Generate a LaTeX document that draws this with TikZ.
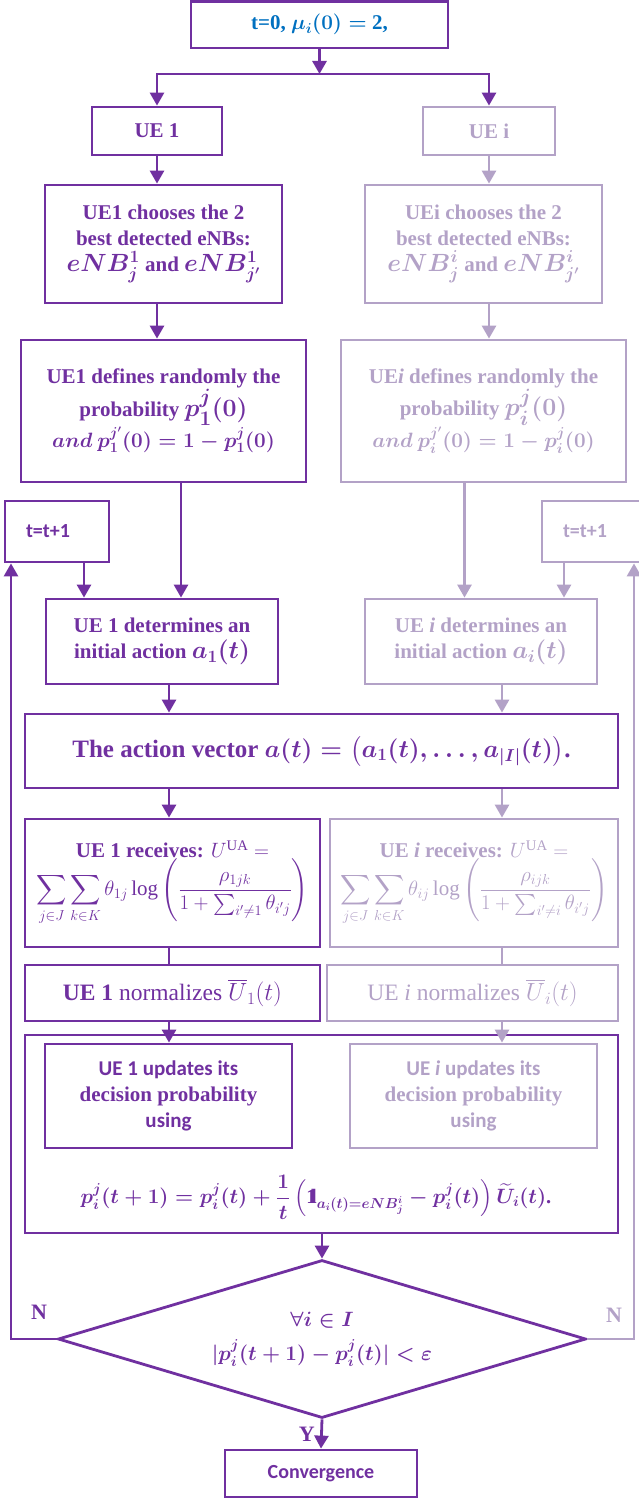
\documentclass[tikz,border=0pt]{standalone}
\usepackage{amsmath,amssymb}
\usepackage{fontspec}
\setmainfont{Liberation Serif}
\setsansfont{Carlito}
\usepackage{tikz}
\usetikzlibrary{arrows.meta,shapes.geometric}
\definecolor{uedark}{HTML}{7030A0}
\definecolor{uelight}{HTML}{B3A2C7}
\definecolor{ueblue}{HTML}{0070C0}
\newcommand{\uesize}[2]{\fontsize{#1}{#2}\selectfont}
\newcommand{\ueind}{\mathrm{1\kern-0.27em l}}

\begin{document}
\begin{tikzpicture}[x=1pt, y=-1pt,
    box/.style={draw, rectangle, line width=2.8pt, align=center, inner sep=2pt, font=\uesize{21}{26}\bfseries\boldmath},
    dk/.style={draw=uedark, text=uedark},
    lt/.style={draw=uelight, text=uelight},
    tbox/.style={box, align=left, text width=62pt, inner xsep=21pt, minimum height=61pt, font=\uesize{20}{24}\sffamily\bfseries},
    arr/.style={-{Triangle[length=13pt,width=14pt]}, line width=2.8pt, uedark},
    larr/.style={arr, uelight},
    ln/.style={line width=2.8pt, uedark},
    lln/.style={ln, uelight},
    lbl/.style={font=\uesize{22}{26}\bfseries}
]
\useasboundingbox (0,0) rectangle (639,1498);

\node[box, dk, text=ueblue, minimum width=257pt, minimum height=46.5pt] (init) at (319.5,24.75) {t=0,\ $\mu_i(0) =$ 2,};
\node[box, dk, minimum width=130pt, minimum height=48pt] (ue1) at (157,131) {UE 1};
\node[box, lt, minimum width=132pt, minimum height=48pt] (uei) at (489,131) {UE i};
\node[box, dk, minimum width=237pt, minimum height=118pt] (cho1) at (163.5,244) {UE1 chooses the 2\\best detected eNBs:\\{\uesize{23}{28}$eNB_j^1$} and {\uesize{23}{28}$eNB_{j'}^1$}};
\node[box, lt, minimum width=237pt, minimum height=118pt] (choi) at (483.5,244) {UEi chooses the 2\\best detected eNBs:\\{\uesize{23}{28}$eNB_j^i$} and {\uesize{23}{28}$eNB_{j'}^i$}};
\node[box, dk, minimum width=285pt, minimum height=142pt] (def1) at (163.5,411) {UE1 defines randomly the\\probability {\uesize{28}{32}$p_1^j(0)$}\\{\uesize{19.5}{32}$and\ p_1^{j'}(0) = 1 - p_1^j(0)$}};
\node[box, lt, minimum width=285pt, minimum height=142pt] (defi) at (483.5,411) {UE\textit{i} defines randomly the\\probability {\uesize{28}{32}$p_i^j(0)$}\\{\uesize{19.5}{32}$and\ p_i^{j'}(0) = 1 - p_i^j(0)$}};
\node[tbox, dk] (tp1) at (57,531.5) {t=t+1};
\node[tbox, lt] (tpi) at (594,531.5) {t=t+1};
\node[box, dk, minimum width=232pt, minimum height=85pt] (det1) at (162,641.5) {UE 1 determines an\\initial action {\uesize{23}{26}$a_1(t)$}};
\node[box, lt, minimum width=232pt, minimum height=85pt] (deti) at (481,641.5) {UE \textit{i} determines an\\initial action {\uesize{23}{26}$a_i(t)$}};
\node[box, dk, minimum width=593pt, minimum height=74pt, font=\uesize{25}{30}\bfseries\boldmath] (act) at (321.5,751) {The action vector $a(t) = \big(a_1(t), \dots, a_{|I|}(t)\big)$.};
\node[box, dk, minimum width=295pt, minimum height=128pt] (rec1) at (172.5,883) {UE 1 receives: {\unboldmath$U^{\mathrm{UA}} =$}\\{\unboldmath$\displaystyle\sum_{j\in J}\sum_{k\in K}\theta_{1j}\log\left(\frac{\rho_{1jk}}{1+\sum_{i'\neq 1}\theta_{i'j}}\right)$}};
\node[box, lt, minimum width=288pt, minimum height=128pt] (reci) at (474,883) {UE \textit{i} receives: {\unboldmath$U^{\mathrm{UA}} =$}\\{\unboldmath$\displaystyle\sum_{j\in J}\sum_{k\in K}\theta_{ij}\log\left(\frac{\rho_{ijk}}{1+\sum_{i'\neq i}\theta_{i'j}}\right)$}};
\node[box, dk, minimum width=295pt, minimum height=56pt, font=\uesize{23.5}{28}\bfseries\boldmath] (nor1) at (172.5,993) {UE 1 {\mdseries\unboldmath normalizes $\overline{U}_1(t)$}};
\node[box, lt, minimum width=291pt, minimum height=56pt, font=\uesize{23.5}{28}\mdseries] (nori) at (472.5,993) {UE \textit{i} normalizes $\overline{U}_i(t)$};
\node[box, dk, minimum width=593pt, minimum height=198pt] (upd) at (321.5,1134) {};
\node[box, dk, minimum width=247pt, minimum height=104pt] (upd1) at (168.5,1096) {{\sffamily UE 1 updates its}\\decision probability\\{\sffamily using}};
\node[box, lt, minimum width=247pt, minimum height=104pt] (updi) at (473.5,1096) {{\sffamily UE \textit{i} updates its}\\decision probability\\{\sffamily using}};
\node[text=uedark, font=\uesize{20.5}{26}\bfseries\boldmath] (rule) at (316,1197) {$p_i^j(t+1) = p_i^j(t) + \dfrac{1}{t}\left(\ueind_{a_i(t)=eNB_j^i} - p_i^j(t)\right)\widetilde{U}_i(t)$.};
\node[draw=uedark, text=uedark, diamond, aspect=3.34, line width=2.8pt, minimum width=528pt, minimum height=158pt, align=center, font=\uesize{22}{34}\bfseries\boldmath] (dec) at (322,1339) {$\forall i \in I$\\$|p_i^j(t+1) - p_i^j(t)| < \varepsilon$};
\node[box, dk, minimum width=192pt, minimum height=47pt, font=\uesize{20}{24}\sffamily\bfseries] (conv) at (321,1473.5) {Convergence};

\coordinate (br) at (0,74);
\coordinate (l1) at (181,0);
\coordinate (li) at (464.5,0);
\coordinate (t1) at (84,0);
\coordinate (ti) at (564,0);
\coordinate (m1) at (169,0);
\coordinate (mi) at (502,0);
\coordinate (fbl) at (11,0);
\coordinate (fbr) at (634,0);

\draw[arr] (init.south) -- (init.south |- br);
\draw[arr] (init.south |- br) -| (ue1.north);
\draw[arr] (init.south |- br) -| (uei.north);
\draw[arr] (ue1.south) -- (ue1.south |- cho1.north);
\draw[larr] (uei.south) -- (uei.south |- choi.north);
\draw[arr] (ue1.south |- cho1.south) -- (ue1.south |- def1.north);
\draw[larr] (uei.south |- choi.south) -- (uei.south |- defi.north);
\draw[arr] (def1.south -| l1) -- (det1.north -| l1);
\draw[larr] (defi.south -| li) -- (deti.north -| li);
\draw[arr] (tp1.south -| t1) -- (det1.north -| t1);
\draw[larr] (tpi.south -| ti) -- (deti.north -| ti);
\draw[arr] (det1.south -| m1) -- (act.north -| m1);
\draw[larr] (deti.south -| mi) -- (act.north -| mi);
\draw[arr] (act.south -| m1) -- (rec1.north -| m1);
\draw[larr] (act.south -| mi) -- (reci.north -| mi);
\draw[ln] (rec1.south -| m1) -- (nor1.north -| m1);
\draw[lln] (reci.south -| mi) -- (nori.north -| mi);
\draw[arr] (nor1.south -| m1) -- (upd1.north -| m1);
\draw[larr] (nori.south -| mi) -- (updi.north -| mi);
\draw[arr] (upd.south -| dec.north) -- (dec.north);
\draw[arr] (dec.south) -- node[lbl, text=uedark, left, xshift=-2pt] {Y} (conv.north);
\draw[arr] (dec.west) -| (tp1.south -| fbl);
\draw[larr] (dec.east) -| (tpi.south -| fbr);
\node[lbl, text=uedark] (nl) at (39,1312) {N};
\node[lbl, text=uelight] (nr) at (614,1315) {N};
\end{tikzpicture}
\end{document}
